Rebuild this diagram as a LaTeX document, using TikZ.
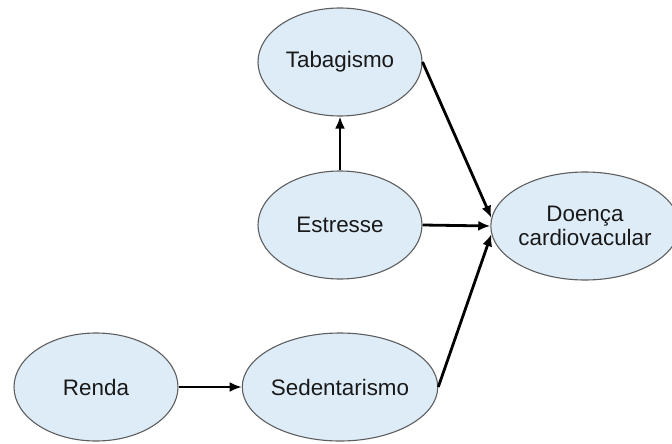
\documentclass[tikz,border=0pt]{standalone}
\usepackage{fontspec}
\setmainfont{Liberation Sans}
\usetikzlibrary{shapes.geometric,arrows.meta}
\definecolor{varfill}{HTML}{DEECF8}
\definecolor{varline}{HTML}{5E5E5E}
\begin{document}
\begin{tikzpicture}[x=0.5pt,y=-0.5pt,
    var/.style={ellipse, draw=varline, line width=0.55pt, fill=varfill,
        minimum width=82pt, minimum height=54pt, inner sep=0pt,
        align=center, font=\fontsize{11.2}{12}\selectfont, text=black!90},
    causes/.style={-{Latex[length=6pt,width=5pt]}, line width=1.4pt, black}]
        % Fix the canvas
        \useasboundingbox (0,0) rectangle (672,443);

        % Define the variables
        \node[var] (tabag) at (340,62) {Tabagismo};
        \node[var] (estresse) at (340,225) {Estresse};
        \node[var] (doenca) at (585,226) {Doença\\cardiovacular};
        \node[var] (renda) at (96,387) {Renda};
        \node[var] (sedent) at (340,387) {Sedentarismo};

        % Draw the causal arrows
        \draw[causes] (estresse) -- (tabag);
        \draw[causes] (renda) -- (sedent);
        \draw[causes] (tabag.east) -- (doenca.175);
        \draw[causes] (estresse.east) -- (doenca.west);
        \draw[causes] (sedent.east) -- (doenca.185);
    \end{tikzpicture}
\end{document}
